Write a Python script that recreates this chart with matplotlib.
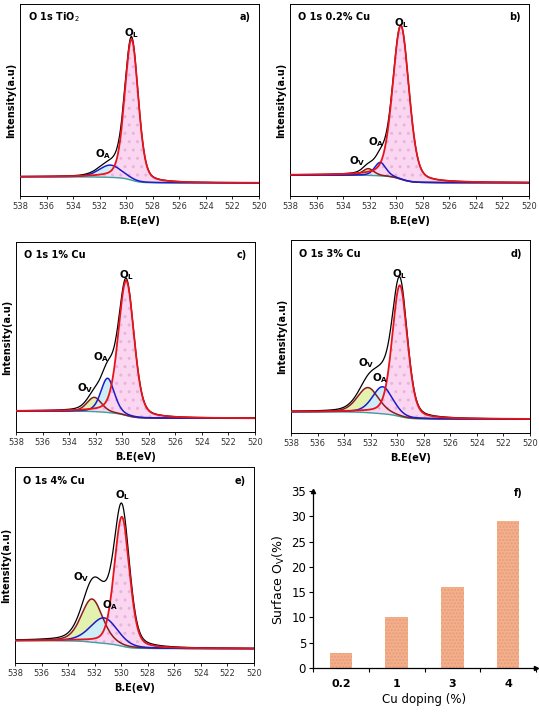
import numpy as np
import matplotlib
matplotlib.use("Agg")
from matplotlib import pyplot as plt

# peak parameters (a-e), heights are above background, axis units 0..1
panel_titles = ["O 1s TiO$_2$", "O 1s 0.2% Cu", "O 1s 1% Cu", "O 1s 3% Cu", "O 1s 4% Cu"]
panel_letters = ["a)", "b)", "c)", "d)", "e)"]

ol_center = [529.6, 529.65, 529.7, 529.8, 529.95]
ol_height = [0.735, 0.80, 0.71, 0.68, 0.66]
ol_fwhm = [1.2, 1.45, 1.4, 1.35, 1.35]

oa_center = [531.2, 531.2, 531.1, 531.1, 531.3]
oa_height = [0.064, 0.07, 0.18, 0.14, 0.13]
oa_fwhm = [2.0, 1.0, 1.2, 1.8, 2.4]

ov_center = [None, 532.1, 532.1, 532.2, 532.2]
ov_height = [0.0, 0.035, 0.075, 0.13, 0.22]
ov_fwhm = [1.0, 1.0, 1.3, 1.9, 1.9]

bg_high = [0.10, 0.109, 0.11, 0.11, 0.114]
bg_low = [0.068, 0.069, 0.072, 0.072, 0.073]

# label positions (B.E, intensity) for O_L, O_A, O_V
ol_label = [(529.6, 0.85), (529.6, 0.90), (529.7, 0.826), (529.8, 0.822), (529.9, 0.857)]
oa_label = [(531.7, 0.22), (531.5, 0.28), (531.6, 0.396), (531.3, 0.283), (530.8, 0.296)]
ov_label = [None, (532.9, 0.18), (532.8, 0.233), (532.3, 0.361), (533.0, 0.437)]

# bar chart f)
cu_doping = ["0.2", "1", "3", "4"]
surface_ov = [3, 10, 16, 29]

W, H = 539, 714
# axes boxes in pixels: left, right, top, bottom
boxes = [(20, 259, 4, 196), (290, 529, 4, 196), (16, 255, 242, 432),
         (291, 530, 240, 433), (15, 254, 467, 663)]

red = "#e8141c"
blue = "#1c1cc8"
brown = "#8b1c1c"
teal = "#3aa0a0"


def pv(x, c, h, w, eta=0.3):
    g = np.exp(-4 * np.log(2) * ((x - c) / w) ** 2)
    l = 1 / (1 + 4 * ((x - c) / w) ** 2)
    return h * ((1 - eta) * g + eta * l)


def rect(l, r, t, b):
    return [l / W, 1 - b / H, (r - l) / W, (b - t) / H]


fig = plt.figure(figsize=(W / 100, H / 100), dpi=100)
x = np.linspace(520, 538, 900)

for i in range(5):
    ax = fig.add_axes(rect(*boxes[i]))
    p_ol = pv(x, ol_center[i], ol_height[i], ol_fwhm[i])
    p_oa = pv(x, oa_center[i], oa_height[i], oa_fwhm[i])
    p_ov = pv(x, ov_center[i], ov_height[i], ov_fwhm[i]) if ov_center[i] else np.zeros_like(x)
    total = p_ol + p_oa + p_ov
    # Shirley-like step background
    cum = np.concatenate([[0], np.cumsum((total[1:] + total[:-1]) / 2 * np.diff(x))])
    bg = bg_low[i] + (bg_high[i] - bg_low[i]) * cum / cum[-1]

    if ov_center[i]:
        ax.fill_between(x, bg, bg + p_ov, color="#e4f2b0", lw=0, zorder=1)
    ax.fill_between(x, bg, bg + p_oa, color="#cdeef7", lw=0, zorder=1.2)
    ax.fill_between(x, bg, bg + p_ol, facecolor="#fbd6f1", edgecolor="#eab3dc",
                    hatch="..", lw=0, zorder=1.4)
    ax.plot(x, bg, color=teal, lw=1, zorder=2)
    if ov_center[i]:
        ax.plot(x, bg + p_ov, color=brown, lw=1.1, zorder=3)
    ax.plot(x, bg + p_oa, color=blue, lw=1.1, zorder=3)
    ax.plot(x, bg + total, color="black", lw=0.9, zorder=4)
    ax.plot(x, bg + p_ol, color=red, lw=1.3, zorder=5)

    ax.set_xlim(538, 520)
    ax.set_ylim(0, 1)
    ax.set_xticks(np.arange(538, 519, -2))
    ax.set_yticks([])
    ax.tick_params(axis="x", labelsize=6, length=2, width=0.6, pad=2, labelcolor="#333333")
    for s in ax.spines.values():
        s.set_linewidth(0.7)
    ax.set_xlabel("B.E(eV)", fontsize=7, fontweight="bold", labelpad=4)
    ax.set_ylabel("Intensity(a.u)", fontsize=7, fontweight="bold", labelpad=3)
    ax.text(0.035, 0.93, panel_titles[i], transform=ax.transAxes, fontsize=7,
            fontweight="bold", va="center", ha="left")
    ax.text(0.965, 0.93, panel_letters[i], transform=ax.transAxes, fontsize=7,
            fontweight="bold", va="center", ha="right")
    ax.text(*ol_label[i], "O$_\\mathbf{L}$", fontsize=7.5, fontweight="bold", ha="center", va="center", zorder=6)
    ax.text(*oa_label[i], "O$_\\mathbf{A}$", fontsize=7.5, fontweight="bold", ha="center", va="center", zorder=6)
    if ov_label[i]:
        ax.text(*ov_label[i], "O$_\\mathbf{V}$", fontsize=7.5, fontweight="bold", ha="center", va="center", zorder=6)

# f) bar chart
axf = fig.add_axes(rect(313, 536, 491, 668))
pos = np.arange(len(cu_doping))
axf.bar(pos, surface_ov, width=0.4, facecolor="#f5b183", edgecolor="#e39a8e", hatch=".....", lw=0)
axf.set_xlim(-0.5, 3.5)
axf.set_ylim(0, 35)
axf.set_yticks(range(0, 36, 5))
axf.set_xticks(pos)
axf.set_xticklabels(cu_doping, fontweight="bold")
axf.set_xticks(np.arange(-0.5, 3.6, 1), minor=True)
axf.tick_params(axis="x", which="major", length=0, pad=8, labelsize=8)
axf.tick_params(axis="x", which="minor", length=3, width=0.8)
axf.tick_params(axis="y", length=3, width=0.8, labelsize=8.5, pad=2)
axf.spines["top"].set_visible(False)
axf.spines["right"].set_visible(False)
axf.spines["left"].set_linewidth(0.9)
axf.spines["bottom"].set_linewidth(0.9)
axf.plot(1, 0, ">k", ms=3, transform=axf.transAxes, clip_on=False)
axf.plot(0, 1, "^k", ms=3, transform=axf.transAxes, clip_on=False)
axf.set_xlabel("Cu doping (%)", fontsize=8.5, labelpad=3)
axf.set_ylabel("Surface O$_\\mathrm{V}$(%)", fontsize=9, labelpad=3)
axf.text(0.9, 0.99, "f)", transform=axf.transAxes, fontsize=7, fontweight="bold", va="center")

plt.savefig("out.png", dpi=100)
